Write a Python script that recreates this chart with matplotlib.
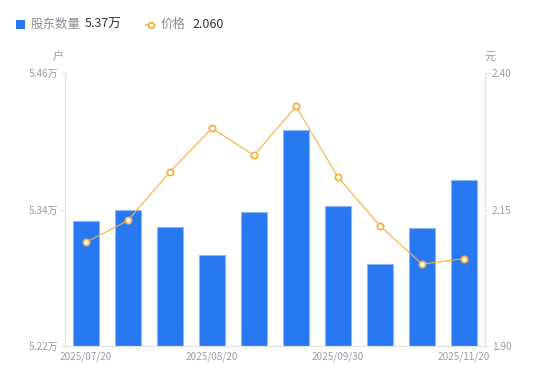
import matplotlib
matplotlib.use("Agg")
import matplotlib.pyplot as plt
from matplotlib.lines import Line2D

plt.rcParams['font.family'] = ['Noto Sans CJK SC', 'DejaVu Sans']

dates = ['2025/07/20', '2025/07/31', '2025/08/10', '2025/08/20', '2025/08/31',
         '2025/09/20', '2025/09/30', '2025/10/20', '2025/10/31', '2025/11/20']
holders = [5.330, 5.340, 5.325, 5.300, 5.338, 5.410, 5.343, 5.292, 5.324, 5.366]  # 万户
price = [2.090, 2.130, 2.219, 2.299, 2.249, 2.339, 2.209, 2.120, 2.050, 2.060]
left_ticks = [5.22, 5.34, 5.46]
right_ticks = [1.90, 2.15, 2.40]
shown_labels = {0, 3, 6, 9}

BLUE = '#2878f2'
EDGE = '#8cb6f8'
ORANGE = '#f9b13a'
TICK = '#9a9cab'
AXC = '#e3e3e6'

fig = plt.figure(figsize=(5.5, 3.81), dpi=100)
ax = fig.add_axes([65/550, 35/381, 420/550, 273/381])
ax2 = ax.twinx()

x = list(range(len(dates)))
ax.bar(x, holders, width=0.6, color=BLUE, edgecolor=EDGE, linewidth=0.8, zorder=2)
ax.set_ylim(left_ticks[0], left_ticks[-1])
ax.set_xlim(-0.5, len(dates) - 0.5)
ax.set_yticks(left_ticks)
ax.set_yticklabels([f'{v:.2f}万' for v in left_ticks])
ax.set_xticks(x)
ax.set_xticklabels([d if i in shown_labels else '' for i, d in enumerate(dates)])
ax.tick_params(axis='x', length=0, pad=4, labelsize=7.2, colors=TICK)
ax.tick_params(axis='y', length=3, width=0.8, color=AXC, pad=2, labelsize=7.2, labelcolor=TICK)

ax2.plot(x, price, color=ORANGE, linewidth=0.8, marker='o', markersize=4.5,
         markerfacecolor='white', markeredgecolor=ORANGE, markeredgewidth=1.3, zorder=3)
ax2.set_ylim(right_ticks[0], right_ticks[-1])
ax2.set_yticks(right_ticks)
ax2.set_yticklabels([f'{v:.2f}' for v in right_ticks])
ax2.tick_params(axis='y', length=3, width=0.8, color=AXC, pad=2, labelsize=7.2, labelcolor=TICK)

for a in (ax, ax2):
    a.spines['top'].set_visible(False)
    for s in ('left', 'right', 'bottom'):
        a.spines[s].set_color(AXC)
        a.spines[s].set_linewidth(0.8)

fig.text(58/550, 1 - 57/381, '户', ha='center', va='center', fontsize=8, color=TICK)
fig.text(490/550, 1 - 57/381, '元', ha='center', va='center', fontsize=8, color=TICK)

# legend row
fig.patches.append(plt.Rectangle((16/550, 1 - 29/381), 9/550, 9/381, transform=fig.transFigure,
                                 facecolor=BLUE, edgecolor='none'))
fig.text(31/550, 1 - 24.5/381, '股东数量', ha='left', va='center', fontsize=9, color='#8a8c99')
fig.text(85/550, 1 - 24.5/381, f'{holders[-1]:.2f}万', ha='left', va='center', fontsize=9, color='#333333')
fig.lines.append(Line2D([146/550, 155/550], [1 - 24.5/381] * 2, transform=fig.transFigure,
                        color=ORANGE, linewidth=1.2))
fig.lines.append(Line2D([150.5/550], [1 - 24.5/381], transform=fig.transFigure,
                        color=ORANGE, marker='o', markersize=4, markerfacecolor='white',
                        markeredgecolor=ORANGE, markeredgewidth=1.4, linestyle='none'))
fig.text(161/550, 1 - 24.5/381, '价格', ha='left', va='center', fontsize=9, color='#8a8c99')
fig.text(192/550, 1 - 24.5/381, f'{price[-1]:.3f}', ha='left', va='center', fontsize=9, color='#333333')

fig.savefig('out.png', dpi=100)
